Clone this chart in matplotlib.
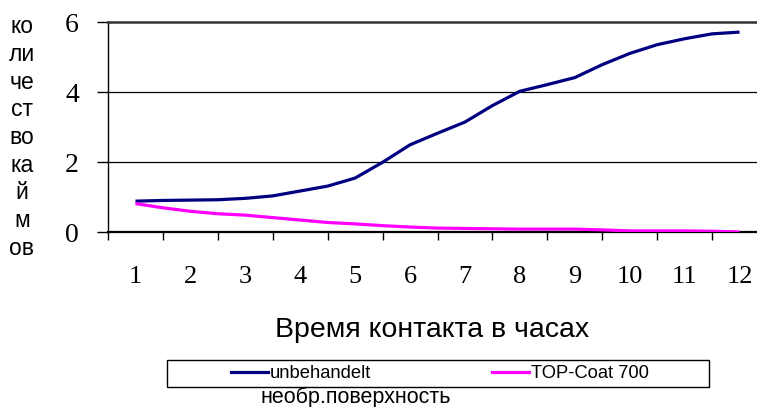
import matplotlib
matplotlib.use("Agg")
import matplotlib.pyplot as plt
from matplotlib.patches import Rectangle
from matplotlib.lines import Line2D

# ---- data ----
hours = [1, 1.5, 2, 2.5, 3, 3.5, 4, 4.5, 5, 5.5, 6, 6.5,
         7, 7.5, 8, 8.5, 9, 9.5, 10, 10.5, 11, 11.5, 12]
unbehandelt = [0.89, 0.91, 0.92, 0.93, 0.97, 1.04, 1.18, 1.32, 1.55, 2.00, 2.50, 2.83,
               3.15, 3.62, 4.03, 4.22, 4.42, 4.79, 5.11, 5.36, 5.53, 5.67, 5.72]
top_coat = [0.82, 0.70, 0.60, 0.53, 0.49, 0.42, 0.35, 0.28, 0.24, 0.19, 0.15, 0.12,
            0.11, 0.10, 0.09, 0.09, 0.09, 0.07, 0.04, 0.04, 0.04, 0.03, 0.01]
x_labels = ["1", "2", "3", "4", "5", "6", "7", "8", "9", "10", "11", "12"]
y_ticks = [0, 2, 4, 6]
series_names = ["unbehandelt", "TOP-Coat 700"]
extra_legend = "необр.поверхность"
x_title = "Время контакта в часах"
y_title_lines = ["ко", "ли", "че", "ст", "во", "ка", "й", "м", "ов"]

W, H = 757, 407
fig = plt.figure(figsize=(W / 100, H / 100), dpi=100)
fig.patch.set_facecolor("white")

def fx(px):
    return px / W

def fy(py):
    return 1 - py / H

ax = fig.add_axes([fx(108), fy(232.3), fx(767) - fx(108), fy(22.3) - fy(232.3)])

ax.plot(hours, unbehandelt, color="#000080", lw=2.3, solid_capstyle="butt", zorder=3)
ax.plot(hours, top_coat, color="#FF00FF", lw=2.3, solid_capstyle="butt", zorder=3)

ax.set_xlim(0.5, 12.5)
ax.set_ylim(0, 6)

# grid lines
for v in y_ticks[1:-1]:
    ax.axhline(v, color="black", lw=0.9, zorder=1)

ax.spines["right"].set_visible(False)
ax.spines["top"].set_color("#333333")
ax.spines["top"].set_linewidth(1.8)
ax.spines["bottom"].set_color("black")
ax.spines["bottom"].set_linewidth(1.6)
ax.spines["left"].set_color("black")
ax.spines["left"].set_linewidth(1.0)

serif = "Liberation Serif"
ax.set_yticks(y_ticks)
ax.set_yticklabels([str(v) for v in y_ticks], fontfamily=serif, fontsize=20)
ax.tick_params(axis="y", direction="out", length=8, width=1.0, pad=13, colors="black")

ax.set_xticks(range(1, 13))
ax.set_xticklabels(x_labels, fontfamily=serif, fontsize=19)
ax.tick_params(axis="x", which="major", length=0, pad=24)
ax.set_xticks([i + 0.5 for i in range(0, 12)], minor=True)
ax.tick_params(axis="x", which="minor", direction="out", length=6, width=1.0)

# axis titles
sans = "Liberation Sans"
fig.text(fx(431.7), fy(336.7), x_title, ha="center", va="baseline",
         fontfamily=sans, fontsize=20.5)
for i, t in enumerate(y_title_lines):
    fig.text(fx(22), fy(26.7 + i * 27.7), t, ha="center", va="center",
             fontfamily=sans, fontsize=16.5)

# legend
fig.patches.append(Rectangle((fx(167.3), fy(387.3)), fx(708.5) - fx(167.3), fy(359.7) - fy(387.3),
                             transform=fig.transFigure, fill=False, edgecolor="black", lw=1.0))
handles = [Line2D([], [], color="#000080", lw=2.3), Line2D([], [], color="#FF00FF", lw=2.3)]
fig.legend(handles, series_names, loc="center", bbox_to_anchor=(fx(440), fy(373.5)),
           ncol=2, frameon=False, prop={"family": sans, "size": 13.2},
           handlelength=2.0, handletextpad=0.1, columnspacing=6.6, borderpad=0)
fig.text(fx(356), fy(403), extra_legend, ha="center", va="baseline",
         fontfamily=sans, fontsize=15.5)

fig.savefig("out.png", dpi=100, facecolor="white")
